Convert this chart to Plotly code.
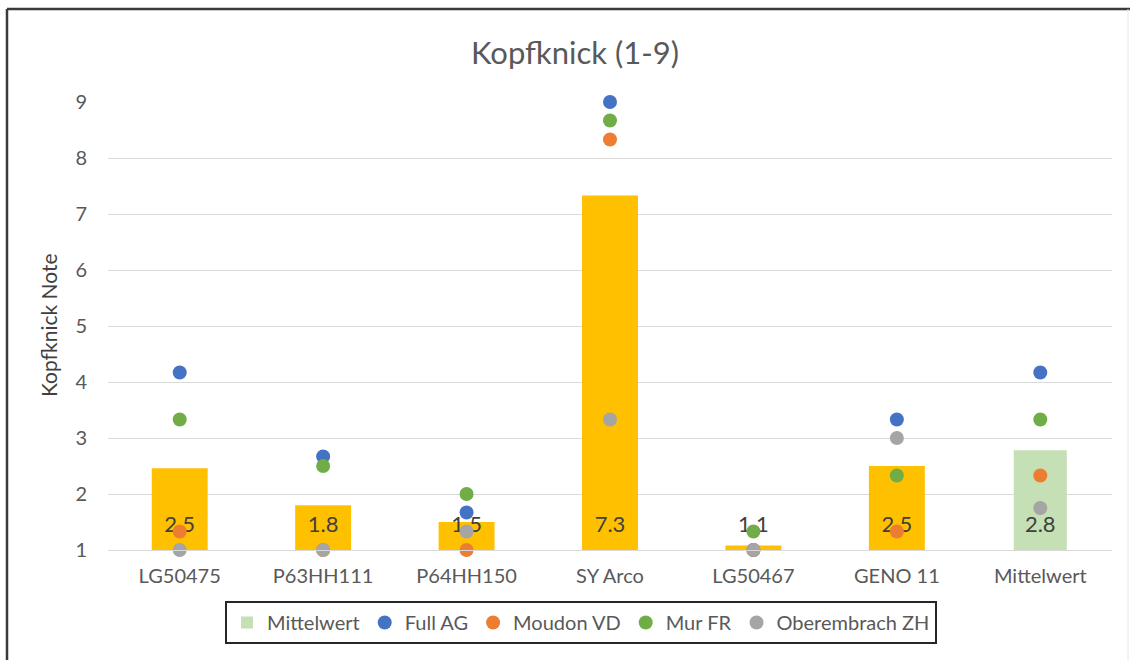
import plotly.graph_objects as go

categories = ["LG50475", "P63HH111", "P64HH150", "SY Arco", "LG50467", "GENO 11", "Mittelwert"]
mean_values = [2.46, 1.80, 1.50, 7.33, 1.08, 2.50, 2.78]
mean_labels = ["2.5", "1.8", "1.5", "7.3", "1.1", "2.5", "2.8"]
full_ag = [4.17, 2.67, 1.67, 9.00, 1.00, 3.33, 4.17]
moudon_vd = [1.33, 1.00, 1.00, 8.33, 1.00, 1.33, 2.33]
mur_fr = [3.33, 2.50, 2.00, 8.67, 1.33, 2.33, 3.33]
oberembrach_zh = [1.00, 1.00, 1.33, 3.33, 1.00, 3.00, 1.75]
label_y = 1.42
y_ticks = [1, 2, 3, 4, 5, 6, 7, 8, 9]

FONT = "Lato, 'Open Sans', sans-serif"
TXT = "#595959"

# plot area in pixels
L, R, T, B = 108, 1112, 102, 550
W, H = R - L, B - T


def px_x(px):
    return (px - L) / W


def px_y(py):
    return (B - py) / H


fig = go.Figure()

fig.add_trace(go.Bar(
    x=categories[:-1], y=mean_values[:-1], width=0.39,
    marker=dict(color="#FFC000", line=dict(width=0)),
    showlegend=False, name="Sorten",
))
fig.add_trace(go.Bar(
    x=categories[-1:], y=mean_values[-1:], width=0.37,
    marker=dict(color="#C5E0B4", line=dict(width=0)),
    name="Mittelwert",
))
fig.add_trace(go.Scatter(
    x=categories, y=[label_y] * len(categories), mode="text",
    text=mean_labels, textfont=dict(family=FONT, size=22, color="#404040"),
    showlegend=False, cliponaxis=False,
))

series = [
    ("Full AG", full_ag, "#4472C4"),
    ("Moudon VD", moudon_vd, "#ED7D31"),
    ("Mur FR", mur_fr, "#70AD47"),
    ("Oberembrach ZH", oberembrach_zh, "#A5A5A5"),
]
for name, vals, col in series:
    fig.add_trace(go.Scatter(
        x=categories, y=vals, mode="markers", name=name,
        marker=dict(color=col, size=14, line=dict(width=0)),
        cliponaxis=False,
    ))

fig.update_layout(
    width=1132, height=660,
    margin=dict(l=L, r=1132 - R, t=T, b=660 - B, autoexpand=False),
    paper_bgcolor="white", plot_bgcolor="white",
    barmode="overlay",
    font=dict(family=FONT, color=TXT, size=20),
    title=dict(text="Kopfknick (1-9)", x=575 / 1132, xanchor="center",
               y=1 - 53 / 660, yanchor="middle",
               font=dict(family=FONT, size=31, color=TXT)),
    showlegend=True,
    legend=dict(
        orientation="h", x=px_x(581), xanchor="center", y=px_y(601), yanchor="top",
        bordercolor="#262626", borderwidth=2, bgcolor="white",
        font=dict(family=FONT, size=20, color=TXT),
        itemwidth=30, traceorder="normal",
    ),
    xaxis=dict(
        type="category", categoryorder="array", categoryarray=categories,
        range=[-0.5, 6.5], showgrid=False, showline=True, linecolor="#D9D9D9",
        linewidth=1, ticks="", ticklabelstandoff=8,
        tickfont=dict(family=FONT, size=20, color=TXT), fixedrange=True,
    ),
    yaxis=dict(
        range=[1, 9], tickvals=y_ticks, showgrid=True, gridcolor="#D9D9D9",
        gridwidth=1, zeroline=False, showline=False, ticks="",
        ticklabelstandoff=20, tickfont=dict(family=FONT, size=20, color=TXT),
        fixedrange=True,
    ),
    annotations=[dict(
        text="Kopfknick Note", xref="paper", yref="paper",
        x=px_x(48), y=px_y(325), xanchor="center", yanchor="middle",
        textangle=-90, showarrow=False,
        font=dict(family=FONT, size=21, color="#404040"),
    )],
    shapes=[
        dict(type="line", xref="paper", yref="paper", x0=px_x(7), x1=px_x(1130),
             y0=px_y(9), y1=px_y(9), line=dict(color="#3A3A3A", width=2.5)),
        dict(type="line", xref="paper", yref="paper", x0=px_x(7), x1=px_x(7),
             y0=px_y(9), y1=px_y(670), line=dict(color="#3A3A3A", width=2.5)),
        dict(type="line", xref="paper", yref="paper", x0=px_x(1128), x1=px_x(1128),
             y0=px_y(9), y1=px_y(670), line=dict(color="#E6E6E6", width=1)),
    ],
)

fig.write_html("out.html")
